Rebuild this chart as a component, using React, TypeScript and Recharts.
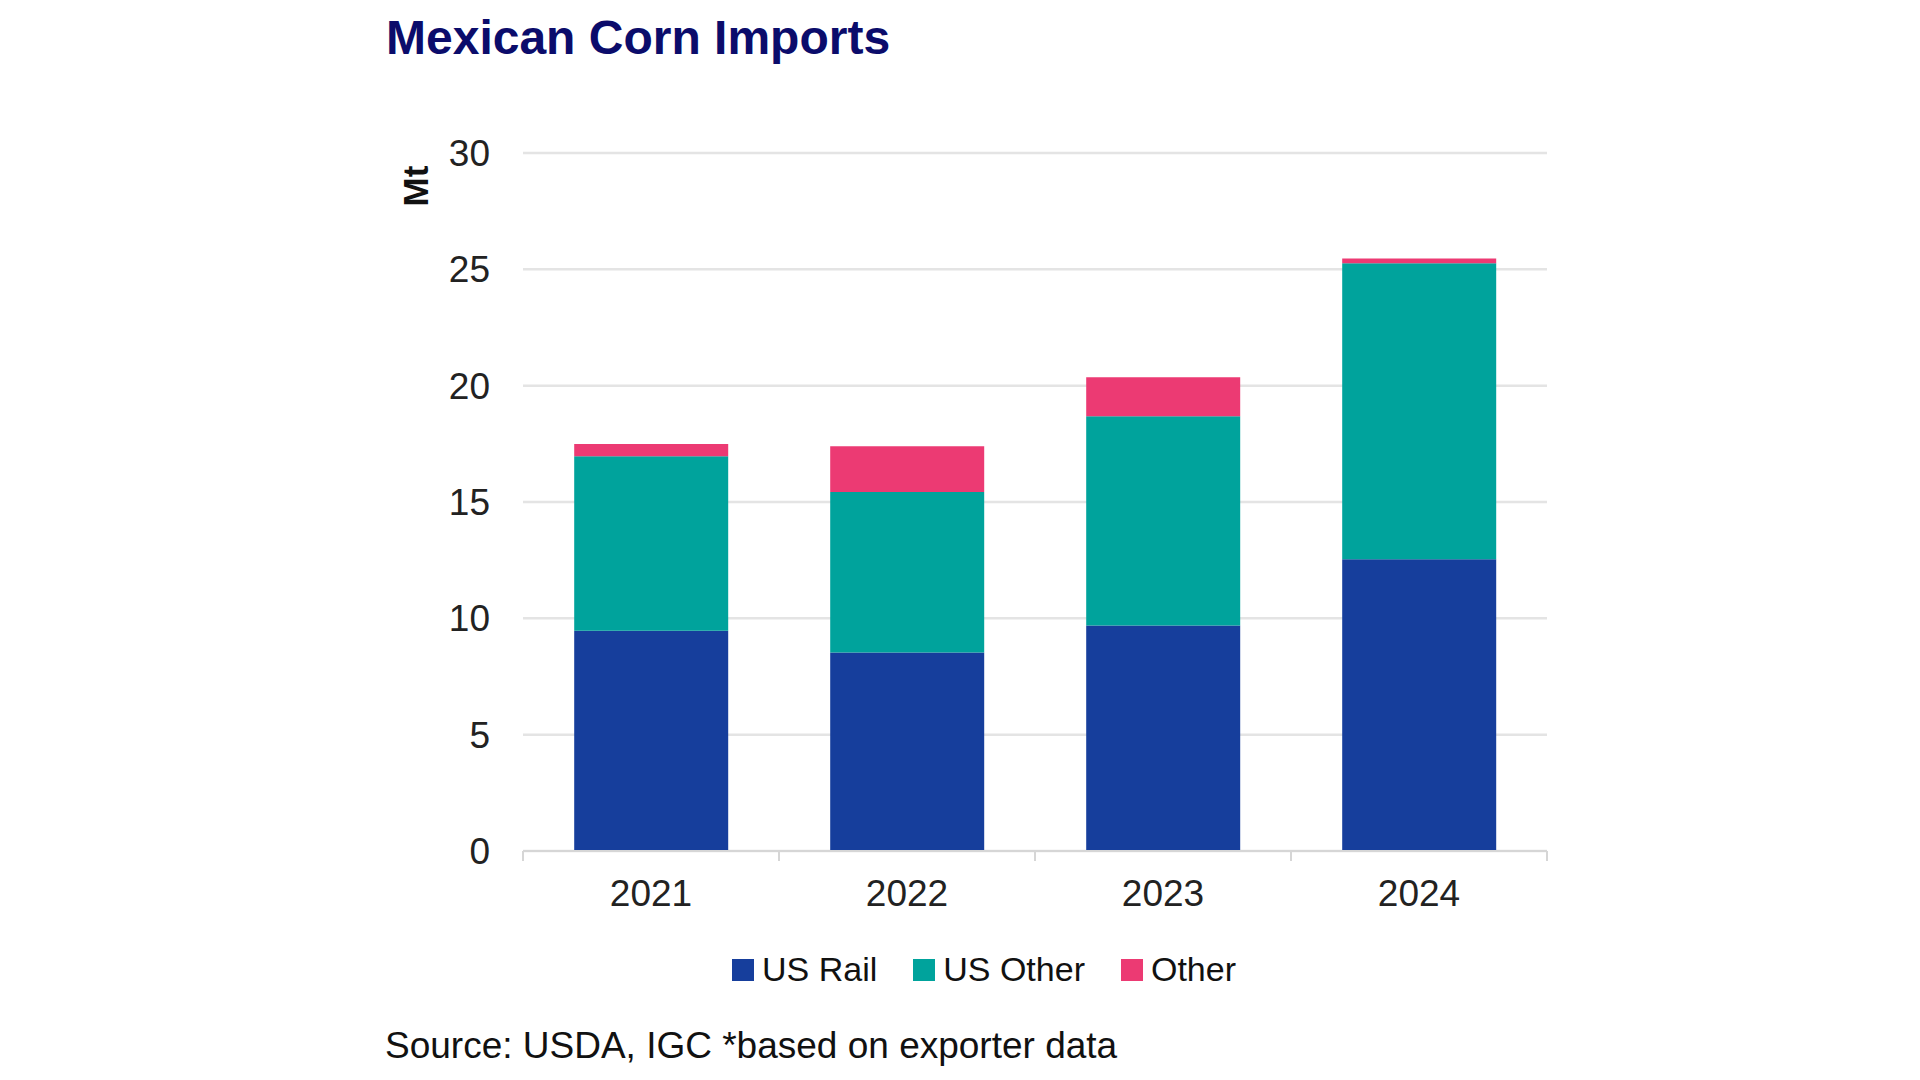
import React from 'react';
import { BarChart, Bar, XAxis, YAxis, CartesianGrid, Legend, Label } from 'recharts';

const years = ['2021', '2022', '2023', '2024'];
const usRail = [9.47, 8.53, 9.69, 12.54];
const usOther = [7.5, 6.9, 9.0, 12.72];
const other = [0.52, 1.97, 1.67, 0.21];
const yTicks = [0, 5, 10, 15, 20, 25, 30];
const legendOrder = ['US Rail', 'US Other', 'Other'];

const data = years.map((year, i) => ({
  year,
  usRail: usRail[i],
  usOther: usOther[i],
  other: other[i],
}));

const FONT = "'Liberation Sans', Arial, sans-serif";
const X_TICK_MARGIN = 29;

const YearTick = (props: any) => {
  const { x, y, payload, index, visibleTicksCount } = props;
  const half = payload.offset || 128;
  const axisY = y - X_TICK_MARGIN;
  return (
    <g>
      <line x1={x - half} x2={x - half} y1={axisY} y2={axisY + 10} stroke="#d6d6d6" strokeWidth={2} />
      {index === visibleTicksCount - 1 && (
        <line x1={x + half} x2={x + half} y1={axisY} y2={axisY + 10} stroke="#d6d6d6" strokeWidth={2} />
      )}
      <text x={x} y={y} dy="0.71em" textAnchor="middle" fill="#222" fontSize={37} fontFamily={FONT}>
        {payload.value}
      </text>
    </g>
  );
};

const renderLegend = (props: any) => {
  const items = [...(props.payload || [])].sort(
    (a: any, b: any) => legendOrder.indexOf(a.value) - legendOrder.indexOf(b.value)
  );
  return (
    <div style={{ display: 'flex', alignItems: 'center', fontFamily: FONT, fontSize: 34, color: '#111' }}>
      {items.map((entry: any) => (
        <div key={entry.value} style={{ display: 'flex', alignItems: 'center', marginRight: 36 }}>
          <span style={{ display: 'inline-block', width: 22, height: 22, background: entry.color, marginRight: 8 }} />
          <span>{entry.value}</span>
        </div>
      ))}
    </div>
  );
};

const MtLabel = ({ viewBox }: any) => {
  const cx = viewBox.x - 8;
  const cy = viewBox.y + 33;
  return (
    <text
      x={cx}
      y={cy}
      transform={`rotate(-90 ${cx} ${cy})`}
      textAnchor="middle"
      dominantBaseline="central"
      fontSize={35}
      fontWeight="bold"
      fontFamily={FONT}
      fill="#111"
    >
      Mt
    </text>
  );
};

export default function App() {
  return (
    <div style={{ position: 'absolute', left: 0, top: 0, width: 1920, height: 1080, background: '#fff' }}>
      <div
        style={{
          position: 'absolute',
          left: 386,
          top: 14,
          fontFamily: FONT,
          fontWeight: 'bold',
          fontSize: 48,
          lineHeight: 1,
          color: '#0b0c6b',
          whiteSpace: 'nowrap',
        }}
      >
        Mexican Corn Imports
      </div>
      <BarChart
        width={1920}
        height={1080}
        data={data}
        margin={{ top: 153, right: 373, left: 423, bottom: 149 }}
        barCategoryGap="20%"
      >
        <CartesianGrid vertical={false} stroke="#e4e4e4" strokeWidth={2.5} />
        <XAxis
          dataKey="year"
          height={80}
          axisLine={{ stroke: '#d6d6d6', strokeWidth: 2 }}
          tickLine={false}
          tickSize={0}
          tickMargin={X_TICK_MARGIN}
          tick={<YearTick />}
          interval={0}
        />
        <YAxis
          width={100}
          domain={[0, 30]}
          ticks={yTicks}
          axisLine={false}
          tickLine={false}
          tickSize={0}
          tickMargin={33}
          tick={{ fontSize: 37, fill: '#222', fontFamily: FONT }}
        >
          <Label content={<MtLabel />} />
        </YAxis>
        <Legend
          verticalAlign="middle"
          align="center"
          content={renderLegend}
          wrapperStyle={{ left: 732, top: 950, width: 'auto' }}
        />
        <Bar dataKey="usRail" name="US Rail" stackId="a" fill="#163e9c" isAnimationActive={false} />
        <Bar dataKey="usOther" name="US Other" stackId="a" fill="#00a39c" isAnimationActive={false} />
        <Bar dataKey="other" name="Other" stackId="a" fill="#ec3a73" isAnimationActive={false} />
      </BarChart>
      <div
        style={{
          position: 'absolute',
          left: 385,
          top: 1027,
          fontFamily: FONT,
          fontSize: 37,
          lineHeight: 1,
          color: '#111',
          whiteSpace: 'nowrap',
        }}
      >
        Source: USDA, IGC *based on exporter data
      </div>
    </div>
  );
}
